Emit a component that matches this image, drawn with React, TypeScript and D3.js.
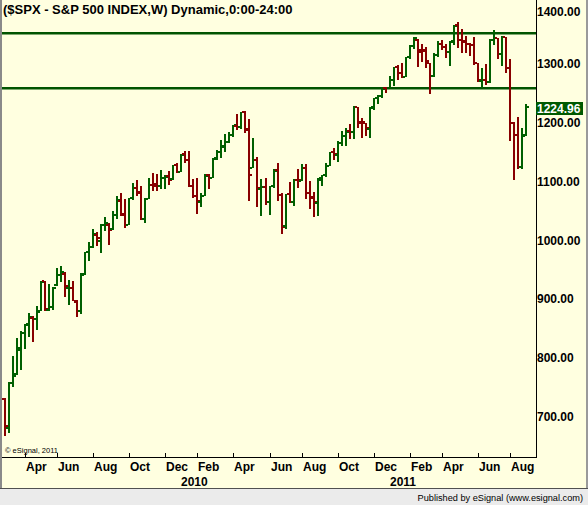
import React from "react";
import * as d3 from "d3";

// Weekly bars: weeks starting Monday 2 Mar 2009 through Monday 29 Aug 2011
const weekStarts: Date[] = d3.timeMonday.range(new Date(2009, 2, 2), new Date(2011, 8, 3));

const opens = [
  729.6, 680.8, 756.6, 772.0, 814.0, 842.0, 856.0, 868.0, 866.0, 879.0,
  930.0, 881.0, 886.0, 923.3, 940.0, 943.0, 918.1, 919.0, 894.0, 880.0,
  942.0, 979.0, 988.0, 1008.0, 998.0, 1026.0, 1025.0, 1018.0, 1042.0, 1067.0,
  1043.0, 1026.0, 1072.0, 1088.0, 1081.0, 1036.0, 1070.0, 1094.0, 1095.0, 1092.0,
  1105.0, 1108.0, 1103.0, 1127.0, 1116.0, 1146.0, 1136.0, 1092.0, 1074.0, 1065.0,
  1075.0, 1110.0, 1105.0, 1138.0, 1149.0, 1158.0, 1167.0, 1178.0, 1194.0, 1192.0,
  1217.0, 1188.0, 1123.0, 1136.0, 1087.0, 1090.0, 1065.0, 1091.0, 1118.0, 1077.0,
  1023.0, 1078.0, 1064.0, 1102.7, 1101.0, 1122.0, 1080.0, 1073.0, 1063.0, 1102.0,
  1110.0, 1126.0, 1149.0, 1145.0, 1165.0, 1176.0, 1184.7, 1183.0, 1226.0, 1200.4,
  1199.0, 1189.0, 1225.0, 1241.0, 1244.0, 1258.5, 1258.0, 1272.0, 1293.0, 1283.0,
  1277.0, 1311.0, 1329.0, 1340.0, 1322.0, 1322.0, 1301.0, 1279.0, 1314.0, 1332.0,
  1328.0, 1319.0, 1337.0, 1365.0, 1340.0, 1337.0, 1333.0, 1331.0, 1300.0, 1270.0,
  1271.5, 1268.0, 1339.6, 1343.3, 1315.0, 1344.3, 1292.6, 1198.5, 1178.9, 1123.5,
  1177.9,
];

const highs = [
  731.5, 758.3, 803.0, 833.0, 845.6, 856.9, 875.6, 871.8, 888.7, 930.2,
  930.2, 924.6, 920.0, 951.7, 956.2, 946.0, 931.9, 930.0, 898.7, 943.9,
  979.8, 996.7, 1018.0, 1013.0, 1027.6, 1039.5, 1028.5, 1049.0, 1074.8, 1080.2,
  1070.0, 1072.0, 1096.6, 1101.4, 1091.0, 1071.5, 1105.4, 1113.7, 1112.4, 1119.1,
  1110.0, 1117.7, 1126.5, 1130.4, 1145.4, 1150.5, 1150.4, 1103.7, 1104.7, 1080.0,
  1112.4, 1112.0, 1139.0, 1153.0, 1169.0, 1180.7, 1184.0, 1194.7, 1213.9, 1217.3,
  1219.8, 1205.0, 1173.6, 1141.0, 1104.0, 1105.7, 1092.0, 1121.0, 1131.2, 1080.0,
  1078.0, 1099.1, 1104.0, 1121.0, 1129.2, 1129.2, 1101.0, 1082.0, 1105.0, 1110.9,
  1131.5, 1150.0, 1156.0, 1167.7, 1184.4, 1189.4, 1196.1, 1227.1, 1226.0, 1207.4,
  1199.0, 1225.6, 1241.0, 1246.7, 1259.4, 1260.0, 1278.2, 1293.2, 1296.7, 1301.3,
  1311.0, 1330.8, 1344.1, 1342.0, 1332.3, 1327.0, 1301.0, 1318.0, 1337.9, 1339.5,
  1332.0, 1337.5, 1364.6, 1370.6, 1359.0, 1346.8, 1334.0, 1345.2, 1300.0, 1292.5,
  1298.6, 1341.0, 1356.5, 1343.8, 1347.0, 1344.3, 1307.4, 1201.0, 1208.5, 1190.7,
  1230.7,
];

const lows = [
  666.8, 672.9, 751.0, 771.0, 779.8, 814.5, 835.0, 826.8, 847.0, 879.0,
  878.9, 879.6, 881.0, 922.0, 928.0, 903.0, 888.9, 896.0, 869.3, 875.0,
  940.0, 965.0, 987.0, 990.0, 978.5, 1016.0, 991.0, 1017.0, 1036.0, 1041.0,
  1020.2, 1025.0, 1068.0, 1074.0, 1033.4, 1029.4, 1069.0, 1084.0, 1083.7, 1086.0,
  1085.9, 1093.0, 1102.0, 1114.0, 1115.0, 1131.0, 1090.0, 1071.6, 1044.5, 1056.0,
  1075.0, 1086.0, 1105.0, 1135.0, 1140.0, 1150.0, 1165.0, 1175.0, 1186.0, 1188.0,
  1181.6, 1065.8, 1122.0, 1055.9, 1040.8, 1060.0, 1042.2, 1089.0, 1067.0, 1010.9,
  1018.0, 1062.0, 1056.9, 1088.0, 1100.0, 1070.0, 1052.0, 1039.7, 1040.0, 1092.0,
  1107.0, 1125.0, 1135.0, 1132.0, 1159.7, 1159.7, 1171.7, 1171.0, 1191.0, 1173.0,
  1176.0, 1173.6, 1220.0, 1231.0, 1241.0, 1250.0, 1257.6, 1262.0, 1271.0, 1275.1,
  1276.0, 1307.0, 1324.0, 1294.3, 1302.0, 1292.0, 1248.0, 1277.0, 1311.0, 1322.0,
  1309.0, 1294.7, 1331.0, 1326.0, 1318.0, 1318.0, 1311.8, 1297.9, 1268.0, 1258.1,
  1262.9, 1267.0, 1330.9, 1307.0, 1296.0, 1282.9, 1168.1, 1101.5, 1121.0, 1121.1,
  1176.0,
];

const closes = [
  683.4, 756.6, 768.5, 815.9, 842.5, 856.6, 869.6, 866.2, 877.5, 929.2,
  882.9, 887.0, 919.1, 940.1, 946.2, 921.2, 918.9, 896.4, 879.1, 940.4,
  979.3, 987.5, 1010.5, 1004.1, 1026.1, 1028.9, 1016.4, 1042.7, 1068.3, 1044.4,
  1025.2, 1071.5, 1087.7, 1079.6, 1036.2, 1069.3, 1093.5, 1091.4, 1091.5, 1106.0,
  1106.4, 1102.5, 1126.5, 1115.1, 1145.0, 1136.0, 1091.8, 1073.9, 1066.2, 1075.5,
  1109.2, 1104.5, 1138.7, 1150.0, 1159.9, 1166.6, 1178.1, 1194.4, 1192.1, 1217.3,
  1186.7, 1110.9, 1135.7, 1087.7, 1089.4, 1064.9, 1091.6, 1117.5, 1076.8, 1022.6,
  1078.0, 1064.9, 1102.7, 1101.6, 1121.6, 1079.3, 1071.7, 1064.6, 1104.5, 1109.6,
  1125.6, 1148.7, 1146.2, 1165.2, 1176.2, 1183.1, 1183.3, 1225.9, 1199.2, 1199.7,
  1189.4, 1224.7, 1240.4, 1243.9, 1256.8, 1257.6, 1271.5, 1293.2, 1283.4, 1276.3,
  1310.9, 1329.2, 1343.0, 1319.9, 1321.2, 1304.3, 1279.2, 1313.8, 1332.4, 1328.2,
  1319.7, 1337.4, 1363.6, 1340.2, 1337.8, 1333.3, 1331.1, 1300.2, 1271.0, 1271.5,
  1268.5, 1339.7, 1343.8, 1316.1, 1345.0, 1292.3, 1199.4, 1178.8, 1123.5, 1176.8,
  1224.96,
];

const priceTicks = [700, 800, 900, 1000, 1100, 1200, 1300, 1400];
const levelLines = [1352, 1258.5];
const lastPrice = 1224.96;
const monthNames = ["Jan", "Feb", "Mar", "Apr", "May", "Jun", "Jul", "Aug", "Sep", "Oct", "Nov", "Dec"];
const labeledMonths = [1, 3, 5, 7, 9, 11]; // Feb, Apr, Jun, Aug, Oct, Dec
const titleText = "($SPX - S&P 500 INDEX,W) Dynamic,0:00-24:00";
const copyrightText = "\u00A9 eSignal, 2011";
const footerText = "Published by eSignal (www.esignal.com)";

const UP = "#005f00";
const DOWN = "#880000";
const LINE = "#005400";
const BG = "#ffffe0";
const FONT = "'Liberation Sans', Arial, sans-serif";

export default function App() {
  const W = 588;
  const H = 505;
  const plotRight = 536;
  const axisY = 457;

  const x = d3.scaleLinear().domain([0, closes.length - 1]).range([5, 526]);
  const y = d3.scaleLinear().domain([700, 1300]).range([416.7, 63.3]);

  // month ticks: first week whose Monday falls in a labelled month
  const monthTicks: { i: number; label: string }[] = [];
  const yearTicks: { i: number; label: string }[] = [];
  weekStarts.forEach((d, i) => {
    const prev = i > 0 ? weekStarts[i - 1] : null;
    if (prev && prev.getMonth() !== d.getMonth()) {
      if (labeledMonths.includes(d.getMonth())) monthTicks.push({ i, label: monthNames[d.getMonth()] });
      if (d.getMonth() === 0) yearTicks.push({ i, label: String(d.getFullYear()) });
    }
  });

  const fmt = d3.format(".2f");

  return (
    <svg
      width={W}
      height={H}
      style={{ position: "absolute", left: 0, top: 0, display: "block" }}
      fontFamily={FONT}
    >
      <rect x={0} y={0} width={W} height={H} fill={BG} />
      {/* footer strip */}
      <rect x={0} y={489} width={W} height={H - 489} fill="#ebebeb" />
      <line x1={0} x2={W} y1={488.5} y2={488.5} stroke="#505050" />
      <text x={583} y={501} fontSize={9.2} textAnchor="end" fill="#000">
        {footerText}
      </text>
      {/* outer borders */}
      <rect x={0} y={0} width={2} height={488} fill="#8a8a8a" />
      <rect x={586} y={0} width={2} height={488} fill="#9a9a9a" />

      {/* frame */}
      <line x1={plotRight + 0.5} x2={plotRight + 0.5} y1={0} y2={axisY + 1} stroke="#000" />
      <line x1={2} x2={plotRight + 1} y1={axisY + 0.5} y2={axisY + 0.5} stroke="#000" />

      {/* title */}
      <text x={3} y={14} fontSize={13} fontWeight="bold" fill="#000">
        {titleText}
      </text>

      {/* support / resistance lines */}
      {levelLines.map((v, k) => (
        <rect key={k} x={2} y={Math.round(y(v)) - 1} width={plotRight - 2} height={2.5} fill={LINE} />
      ))}

      {/* OHLC bars */}
      {closes.map((c, i) => {
        const cx = Math.round(x(i));
        const col = c >= opens[i] ? UP : DOWN;
        const top = Math.round(y(highs[i]));
        const bot = Math.round(y(lows[i]));
        const yo = Math.round(y(opens[i]));
        const yc = Math.round(y(c));
        return (
          <g key={i} fill={col}>
            <rect x={cx - 1} y={top} width={2} height={Math.max(1, bot - top)} />
            <rect x={cx - 3} y={yo - 1} width={2} height={2} />
            <rect x={cx + 1} y={yc - 1} width={2} height={2} />
          </g>
        );
      })}

      {/* price axis labels */}
      {priceTicks.map((v) => (
        <text
          key={v}
          x={537}
          y={Math.max(y(v), 11) + 4.5}
          fontSize={12}
          fontWeight="bold"
          fill="#000"
        >
          {fmt(v)}
        </text>
      ))}

      {/* last price marker */}
      <rect x={536} y={y(lastPrice) - 5.5} width={47} height={13} fill="#005a00" />
      <text x={537} y={y(lastPrice) + 5.5} fontSize={12} fontWeight="bold" fill="#fff">
        {fmt(lastPrice)}
      </text>

      {/* time axis */}
      {monthTicks.map((t) => {
        const tx = Math.round(x(t.i));
        return (
          <g key={"m" + t.i}>
            <line x1={tx + 0.5} x2={tx + 0.5} y1={axisY - 4} y2={axisY} stroke="#000" />
            <text x={tx + 1} y={471} fontSize={12} fontWeight="bold" fill="#000">
              {t.label}
            </text>
          </g>
        );
      })}
      {yearTicks.map((t) => (
        <text key={"y" + t.i} x={Math.round(x(t.i))} y={486} fontSize={12} fontWeight="bold" fill="#000">
          {t.label}
        </text>
      ))}

      <text x={5} y={453} fontSize={8} fill="#000" textLength={53} lengthAdjust="spacingAndGlyphs">
        {copyrightText}
      </text>
    </svg>
  );
}
